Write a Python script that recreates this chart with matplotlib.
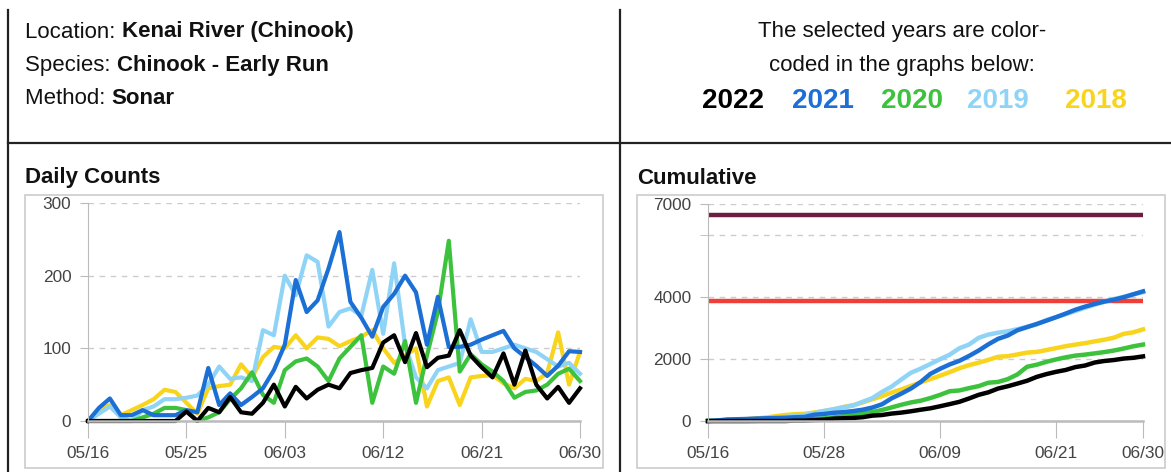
import numpy as np
import matplotlib
matplotlib.use("Agg")
import matplotlib.pyplot as plt
from matplotlib.lines import Line2D
from matplotlib.patches import Rectangle

plt.rcParams['font.family'] = ['Liberation Sans', 'DejaVu Sans']

W, H = 1171, 472

# ---------------- data (05/16 .. 06/30, one value per day) ----------------
years = ['2022', '2021', '2020', '2019', '2018']
colors = ['#000000', '#1c6fd4', '#3cc23c', '#8fd4f6', '#f8d41c']

daily_2022 = [0, 0, 0, 0, 0, 0, 0, 0, 0, 13, 0, 18, 12, 33, 12, 10, 25, 50, 20, 47,
              31, 43, 50, 45, 66, 70, 73, 108, 118, 81, 121, 74, 87, 90, 125, 90,
              74, 60, 93, 50, 97, 50, 31, 47, 25, 45]
daily_2021 = [0, 18, 31, 8, 8, 15, 8, 8, 8, 15, 12, 73, 22, 38, 22, 33, 45, 70, 105, 194,
              150, 166, 210, 260, 164, 142, 116, 157, 175, 200, 177, 105, 171, 102, 102, 105,
              112, 118, 124, 100, 88, 76, 62, 76, 96, 95]
daily_2020 = [0, 0, 0, 0, 0, 5, 10, 18, 18, 15, 0, 5, 12, 30, 45, 67, 36, 25, 70, 82,
              86, 75, 55, 86, 102, 118, 25, 75, 65, 110, 25, 90, 150, 248, 68, 92,
              78, 68, 55, 32, 40, 42, 50, 65, 72, 55]
daily_2019 = [0, 10, 20, 5, 0, 15, 20, 30, 30, 32, 35, 50, 75, 58, 60, 55, 125, 118, 200, 173,
              228, 219, 130, 150, 155, 145, 208, 120, 217, 105, 60, 45, 70, 75, 80, 140,
              95, 95, 100, 105, 100, 95, 85, 75, 80, 65]
daily_2018 = [0, 15, 22, 8, 15, 22, 30, 43, 40, 25, 10, 45, 48, 50, 78, 60, 88, 102, 100, 118,
              100, 115, 113, 103, 110, 116, 125, 100, 80, 90, 100, 20, 55, 60, 22, 60,
              62, 63, 52, 45, 58, 55, 66, 122, 50, 95]
series = [daily_2022, daily_2021, daily_2020, daily_2019, daily_2018]

days = np.arange(46)
daily_ticks = [0, 9, 18, 27, 36, 45]
daily_labels = ['05/16', '05/25', '06/03', '06/12', '06/21', '06/30']
cum_ticks = [0, 12, 24, 36, 45]
cum_labels = ['05/16', '05/28', '06/09', '06/21', '06/30']

goal_upper = 6650   # maroon line
goal_lower = 3870   # red line

# ---------------- helpers ----------------
def rect(x0, y0, x1, y1):
    return [x0 / W, 1 - y1 / H, (x1 - x0) / W, (y1 - y0) / H]

def ftext(x, y, s, **kw):
    return fig.text(x / W, 1 - y / H, s, va='center', **kw)

fig = plt.figure(figsize=(W / 100, H / 100), dpi=100)

# outer lines
for xs, ys in [([8, 8], [10, H]), ([620, 620], [10, H]), ([8, W], [143, 143])]:
    fig.add_artist(Line2D([x / W for x in xs], [1 - y / H for y in ys],
                          color='#222222', lw=1.6, transform=fig.transFigure))

# header left
renderer = fig.canvas.get_renderer()
for y, lab, val in [(32, 'Location: ', 'Kenai River (Chinook)'),
                    (65, 'Species: ', 'Chinook - Early Run'),
                    (98, 'Method: ', 'Sonar')]:
    t = ftext(25, y, lab, fontsize=16, color='#111111')
    bb = t.get_window_extent(renderer)
    ftext(bb.x1, y, val, fontsize=16, fontweight='bold', color='#111111')

# header right
ftext(902, 32, 'The selected years are color-', fontsize=16, ha='center', color='#111111')
ftext(902, 66, 'coded in the graphs below:', fontsize=16, ha='center', color='#111111')
for xc, yr, c in zip([733, 823, 912, 998, 1096], years, colors):
    ftext(xc, 101, yr, fontsize=20, fontweight='bold', ha='center', color=c)

# panel titles + frames
ftext(25, 178, 'Daily Counts', fontsize=16, fontweight='bold', color='#111111')
ftext(637, 178, 'Cumulative', fontsize=16, fontweight='bold', color='#111111')
for x0, x1 in [(25, 603), (637, 1165)]:
    fig.add_artist(Rectangle((x0 / W, 1 - 468 / H), (x1 - x0) / W, (468 - 195) / H,
                             fill=False, ec='#cccccc', lw=1.2, transform=fig.transFigure))

def style_axes(ax):
    for s in ['top', 'right']:
        ax.spines[s].set_visible(False)
    ax.spines['left'].set_color('#bbbbbb')
    ax.spines['bottom'].set_color('#bbbbbb')
    ax.spines['bottom'].set_linewidth(1.8)
    ax.tick_params(axis='x', length=12, color='#bbbbbb', labelsize=12.4, labelcolor='#444444', pad=6)
    ax.tick_params(axis='y', which='both', length=6, color='#bbbbbb', labelsize=12.4,
                   labelcolor='#444444', pad=6)
    ax.set_facecolor('none')

# ---------------- daily counts ----------------
ax1 = fig.add_axes(rect(88, 203, 580, 421))
for vals, c in list(zip(series, colors))[::-1]:
    ax1.plot(days, vals, color=c, lw=3.0, clip_on=False)
ax1.set_xlim(0, 45)
ax1.set_ylim(0, 300)
ax1.set_yticks([0, 100, 200, 300])
ax1.set_xticks(daily_ticks)
ax1.set_xticklabels(daily_labels)
ax1.yaxis.grid(True, color='#cccccc', ls=(0, (4, 4)), lw=1)
style_axes(ax1)

# ---------------- cumulative ----------------
ax2 = fig.add_axes(rect(708, 204, 1143, 421))
ax2.axhline(goal_upper, color='#6e1c40', lw=3.2)
ax2.axhline(goal_lower, color='#ee4038', lw=3.2)
for vals, c in list(zip(series, colors))[::-1]:
    ax2.plot(days, np.cumsum(vals), color=c, lw=3.2, clip_on=False)
ax2.set_xlim(0, 45)
ax2.set_ylim(0, 7000)
ax2.set_yticks([0, 2000, 4000, 7000])
ax2.set_yticks([6000], minor=True)
ax2.set_xticks(cum_ticks)
ax2.set_xticklabels(cum_labels)
ax2.yaxis.grid(True, which='both', color='#cccccc', ls=(0, (4, 4)), lw=1)
style_axes(ax2)

fig.savefig('out.png', dpi=100)
